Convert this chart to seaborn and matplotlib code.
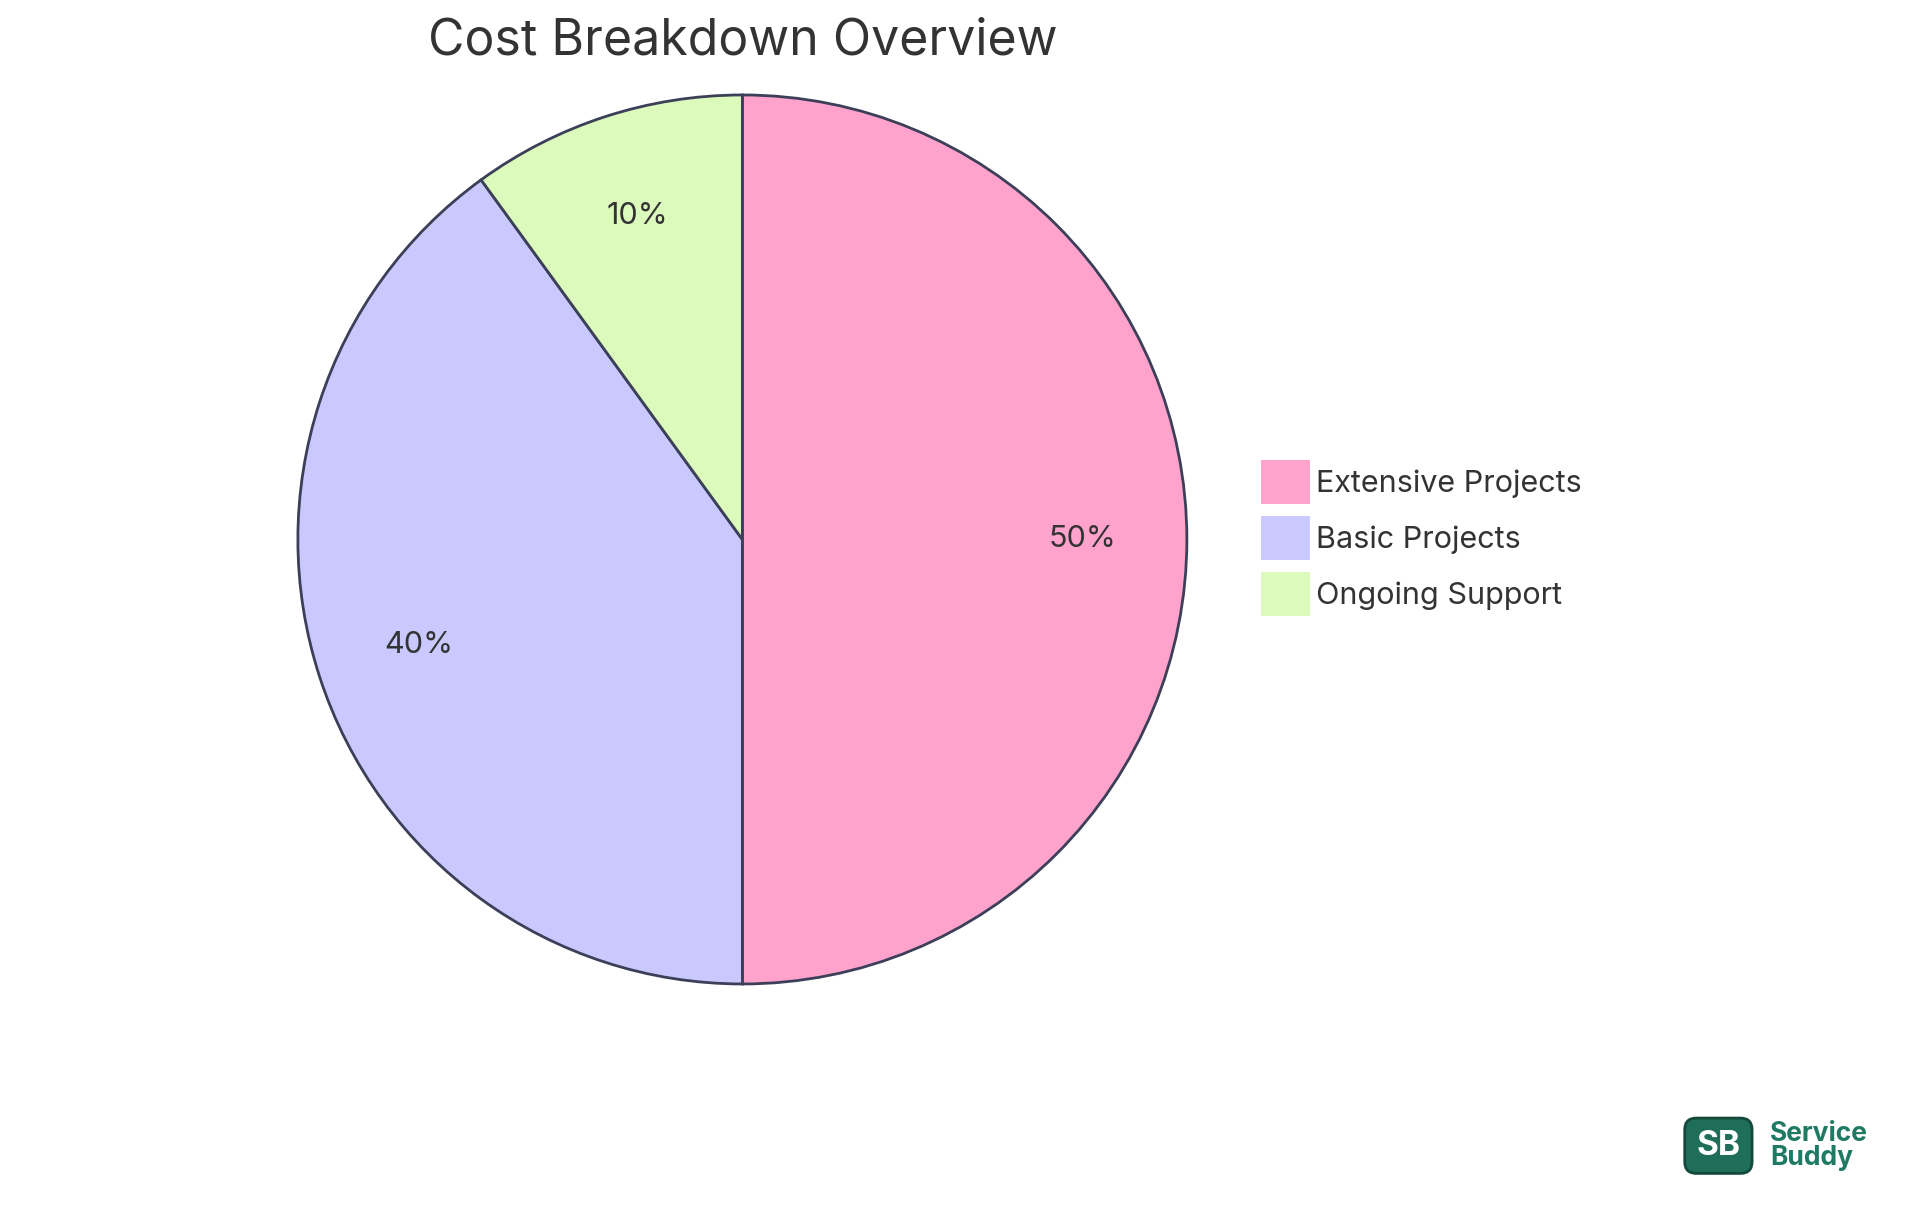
import matplotlib
matplotlib.use("Agg")
import matplotlib.pyplot as plt
import seaborn as sns
from matplotlib.patches import Patch

sns.set_theme(style="white")
plt.rcParams["font.family"] = ["Inter", "DejaVu Sans"]

labels = ["Extensive Projects", "Basic Projects", "Ongoing Support"]
values = [50, 40, 10]
colors = ["#FFA3CD", "#C9C9FF", "#DCFABC"]
edge = "#3C3F58"

fig = plt.figure(figsize=(19.2, 12.15), dpi=100)
ax = fig.add_axes([0.1528, 0.1865, 0.4677, 0.739])
ax.pie(values, colors=colors, startangle=90, counterclock=False,
       autopct="%1.0f%%", pctdistance=0.765,
       wedgeprops=dict(edgecolor=edge, linewidth=2),
       textprops=dict(fontsize=22, color="#333333"))
ax.set_xlim(-1.01, 1.01)
ax.set_ylim(-1.01, 1.01)
ax.axis("off")

fig.text(0.387, 0.966, "Cost Breakdown Overview", ha="center", va="center",
         fontsize=36, color="#333333")

handles = [Patch(facecolor=c, edgecolor="white", linewidth=1.5) for c in colors]
fig.legend(handles, labels, loc="center left",
           bbox_to_anchor=(1232 / 1920, 1 - 538 / 1215), frameon=False,
           fontsize=22, handlelength=1.7, handleheight=1.9,
           handletextpad=0.15, labelspacing=0.35, labelcolor="#333333")

# logo
fig.text(0.895, 0.057, "SB", ha="center", va="center", fontsize=24,
         fontweight="bold", color="white",
         bbox=dict(boxstyle="round,pad=0.35", facecolor="#1F6E5A", edgecolor="#134A3C", linewidth=2))
fig.text(0.922, 0.057, "Service\nBuddy", ha="left", va="center", fontsize=19,
         fontweight="bold", color="#1F7A63", linespacing=0.9)

fig.savefig("out.png", dpi=100, facecolor="white")
